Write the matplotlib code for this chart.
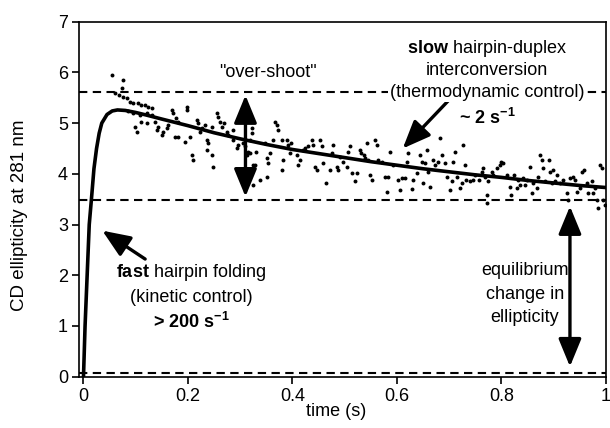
import matplotlib
matplotlib.use("Agg")
import matplotlib.pyplot as plt
from matplotlib.patches import FancyArrowPatch

plt.rcParams['font.family'] = ['Liberation Sans', 'DejaVu Sans']
plt.rcParams['mathtext.fontset'] = 'custom'
plt.rcParams['mathtext.rm'] = 'Liberation Sans'
plt.rcParams['mathtext.bf'] = 'Liberation Sans:bold'
plt.rcParams['mathtext.it'] = 'Liberation Sans:italic'

# ---- data ----
scatter_t = [0.054, 0.075, 0.073, 0.060, 0.067, 0.076, 0.083, 0.089, 0.095, 0.105, 0.111, 0.118, 0.124, 0.131,
             0.086, 0.095, 0.108, 0.121, 0.131, 0.099, 0.102, 0.111, 0.121, 0.137, 0.143, 0.140, 0.150, 0.153,
             0.159, 0.162, 0.169, 0.172, 0.178, 0.181, 0.175, 0.181, 0.198, 0.198, 0.194, 0.204, 0.207, 0.210,
             0.217, 0.220, 0.223, 0.226, 0.233, 0.236, 0.239, 0.236, 0.245, 0.248, 0.245, 0.255, 0.258, 0.261,
             0.265, 0.268, 0.274, 0.277, 0.287, 0.287, 0.293, 0.296, 0.306, 0.309, 0.312, 0.315, 0.322, 0.325,
             0.325, 0.319,
             0.322, 0.319, 0.328, 0.331, 0.338, 0.347, 0.351, 0.354, 0.351, 0.357, 0.363, 0.367, 0.370, 0.373,
             0.379, 0.382, 0.379, 0.389, 0.392, 0.395, 0.398, 0.408, 0.411, 0.414, 0.421, 0.424, 0.430, 0.437,
             0.440, 0.443, 0.446, 0.453, 0.456, 0.459, 0.465, 0.472, 0.475, 0.478, 0.485, 0.488, 0.491, 0.497,
             0.504, 0.507, 0.510, 0.513, 0.520, 0.523, 0.529, 0.532, 0.536, 0.539, 0.542, 0.545, 0.548, 0.552,
             0.558, 0.561, 0.564, 0.571, 0.577, 0.580, 0.583, 0.587, 0.593, 0.602, 0.606, 0.609, 0.615, 0.619,
             0.622, 0.628, 0.631, 0.638, 0.644, 0.647, 0.650, 0.654, 0.657,
             0.660, 0.663, 0.669, 0.673, 0.679, 0.682, 0.686, 0.692, 0.695, 0.701, 0.705, 0.708, 0.711, 0.714,
             0.721, 0.724, 0.727, 0.730, 0.733, 0.740, 0.746, 0.749, 0.756, 0.762, 0.765, 0.768, 0.772, 0.772,
             0.775, 0.781, 0.784, 0.791, 0.797, 0.800, 0.803, 0.810, 0.816, 0.819, 0.823, 0.829, 0.832, 0.835,
             0.842, 0.845, 0.848, 0.855, 0.858, 0.861, 0.867, 0.870, 0.874, 0.877, 0.880, 0.883, 0.890, 0.893,
             0.896, 0.899, 0.902, 0.906, 0.912, 0.918, 0.925, 0.928, 0.931, 0.937, 0.941, 0.944, 0.950, 0.954,
             0.957, 0.963, 0.966, 0.973, 0.976, 0.979, 0.982, 0.985, 0.988, 0.992, 0.995, 0.998]
scatter_y = [5.95, 5.85, 5.69, 5.59, 5.56, 5.52, 5.49, 5.42, 5.39, 5.39, 5.36, 5.36, 5.32, 5.29,
             5.23, 5.19, 5.16, 5.19, 5.16, 4.93, 4.83, 5.03, 5.00, 5.03, 4.93, 4.86, 4.77, 4.83,
             4.90, 4.96, 5.26, 5.19, 5.10, 5.03, 4.73, 4.73, 5.32, 5.26, 4.63, 4.73, 4.37, 4.27,
             5.06, 5.00, 4.83, 4.90, 4.96, 4.67, 4.60, 4.47, 4.37, 4.14, 4.93, 5.19, 5.13, 5.03,
             4.93, 5.00, 4.83, 4.77, 4.86, 4.67, 4.50, 4.57, 4.60, 4.54, 4.37, 4.44, 4.90, 4.17,
             3.78, 4.67,
             4.80, 4.41, 4.17, 4.44, 3.88, 4.60, 4.31, 4.21, 3.94, 4.41, 4.67, 5.03, 4.96, 4.86,
             4.67, 4.27, 4.08, 4.67, 4.57, 4.41, 4.60, 4.37, 4.17, 4.27, 4.47, 4.50, 4.54, 4.67,
             4.57, 4.14, 4.08, 4.67, 4.54, 4.21, 3.81, 4.08, 4.41, 4.57, 4.14, 4.08, 4.34, 4.24,
             4.14, 4.44, 4.54, 4.01, 3.85, 4.01, 4.47, 4.41, 4.37, 4.31, 4.60, 4.27, 3.98, 3.88,
             4.67, 4.57, 4.27, 4.24, 3.94, 3.65, 3.94, 4.44, 4.17, 3.88, 3.68, 3.91, 3.91, 4.24,
             4.41, 3.71, 3.88, 4.01, 4.37, 4.24, 3.81, 4.21, 4.47,
             4.04, 3.75, 4.27, 4.17, 4.24, 4.70, 4.37, 4.21, 3.94, 3.68, 3.85, 4.24, 4.44, 3.94,
             3.72, 3.81, 4.57, 4.17, 3.88, 3.85, 3.88, 3.98, 3.88, 4.04, 4.11, 3.94, 3.58, 3.42,
             3.85, 4.04, 3.98, 4.11, 4.17, 4.24, 4.21, 3.98, 3.75, 3.58, 3.98, 3.72, 3.88, 3.78,
             3.91, 3.78, 3.88, 4.14, 3.62, 3.81, 3.72, 3.94, 4.37, 4.27, 4.11, 3.85, 4.27, 4.04,
             3.81, 4.07, 3.85, 3.98, 3.81, 3.88, 3.62, 3.48, 3.91, 3.94, 3.88, 3.65, 3.72, 4.04,
             4.07, 3.81, 3.62, 3.85, 3.62, 3.72, 3.48, 3.32, 4.17, 4.11, 3.48, 3.38]

fit_t = [0, 0.003, 0.007, 0.011, 0.016, 0.02, 0.025, 0.03, 0.035, 0.045, 0.055, 0.065, 0.08, 0.1,
         0.12, 0.15, 0.2, 0.25, 0.3, 0.35, 0.4, 0.45, 0.5, 0.55, 0.6, 0.65, 0.7, 0.75, 0.8, 0.85,
         0.9, 0.95, 1.0]
fit_y = [0, 1.0, 2.0, 3.0, 3.6, 4.1, 4.5, 4.8, 5.0, 5.17, 5.24, 5.26, 5.25, 5.21,
         5.16, 5.08, 4.95, 4.81, 4.69, 4.58, 4.48, 4.40, 4.32, 4.24, 4.17, 4.10, 4.04, 3.98, 3.93, 3.87,
         3.82, 3.77, 3.73]

level_overshoot = 5.62
level_equilibrium = 3.48
level_baseline = 0.07

xticks = [0, 0.2, 0.4, 0.6, 0.8, 1]
xtick_labels = ["0", "0.2", "0.4", "0.6", "0.8", "1"]
yticks = [0, 1, 2, 3, 4, 5, 6, 7]

# ---- figure ----
fig = plt.figure(figsize=(6.10, 4.28), dpi=100)
ax = fig.add_axes([79/610, 1 - 376.7/428, (606 - 79)/610, (376.7 - 21.7)/428])
ax.set_xlim(-0.0086, 1.0)
ax.set_ylim(0, 7)

ax.scatter(scatter_t, scatter_y, s=8, color='black', linewidths=0, zorder=2)
ax.plot(fit_t, fit_y, color='black', lw=2.6, zorder=3, solid_joinstyle='round')

for lv in (level_overshoot, level_equilibrium, level_baseline):
    ax.plot([-0.0086, 1.0], [lv, lv], color='black', lw=1.5, dashes=(4, 2.6), zorder=1,
            clip_on=False)

ax.set_xticks(xticks)
ax.set_xticklabels(xtick_labels)
ax.set_yticks(yticks)
ax.tick_params(direction='out', length=5, width=1.2, labelsize=13, pad=3, colors='black')
for sp in ax.spines.values():
    sp.set_linewidth(1.2)

fig.text(20/610, 1 - 215/428, "CD ellipticity at 281 nm", rotation=90, ha='center', va='center',
         fontsize=13.5)
fig.text(336/610, 1 - 411/428, "time (s)", ha='center', va='center', fontsize=13)


def arrow(p0, p1, both=False, lw=2.4):
    style = "<|-|>" if both else "-|>"
    a = FancyArrowPatch(p0, p1, arrowstyle=f"{style},head_length=1.7,head_width=0.7",
                        mutation_scale=10, color='black', lw=lw, shrinkA=0, shrinkB=0, zorder=4)
    ax.add_patch(a)


arrow((0.31, 3.55), (0.31, 5.55), both=True)
arrow((0.931, 0.2), (0.931, 3.36), both=True)
arrow((0.118, 2.32), (0.036, 2.88))
arrow((0.698, 5.44), (0.611, 4.50))

fs = 13
ax.text(0.353, 6.0, '"over-shoot"', ha='center', va='center', fontsize=fs)
ax.text(0.772, 6.48, r"$\mathbf{slow}$ hairpin-duplex", ha='center', va='center', fontsize=fs)
ax.text(0.772, 6.03, "interconversion", ha='center', va='center', fontsize=fs)
ax.text(0.772, 5.61, "(thermodynamic control)", ha='center', va='center', fontsize=fs,
        bbox=dict(facecolor='white', edgecolor='none', pad=1.0), zorder=5)
ax.text(0.772, 5.10, r"~ 2 s$^{\mathbf{-1}}$", ha='center', va='center', fontsize=fs,
        fontweight='bold')

ax.text(0.206, 2.06, r"$\mathbf{fast}$ hairpin folding", ha='center', va='center', fontsize=fs)
ax.text(0.206, 1.57, "(kinetic control)", ha='center', va='center', fontsize=fs)
ax.text(0.206, 1.08, r"> 200 s$^{\mathbf{-1}}$", ha='center', va='center', fontsize=fs,
        fontweight='bold')

ax.text(0.845, 2.10, "equilibrium", ha='center', va='center', fontsize=fs)
ax.text(0.845, 1.63, "change in", ha='center', va='center', fontsize=fs)
ax.text(0.845, 1.16, "ellipticity", ha='center', va='center', fontsize=fs)

fig.savefig("out.png", dpi=100)
